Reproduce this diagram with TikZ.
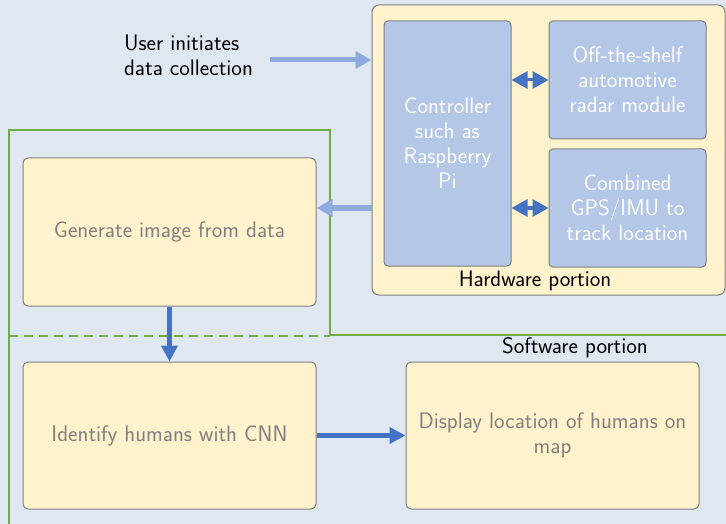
\documentclass[tikz,border=0pt]{standalone}
\usepackage{tikz}
\usetikzlibrary{arrows.meta}
\renewcommand{\familydefault}{\sfdefault}
\definecolor{bgblue}{RGB}{223,231,240}
\definecolor{hwyellow}{RGB}{255,242,204}
\definecolor{ctrlblue}{RGB}{180,199,231}
\definecolor{boxgray}{RGB}{127,127,127}
\definecolor{textgray}{RGB}{128,128,128}
\definecolor{arrowlight}{RGB}{143,170,220}
\definecolor{arrowdark}{RGB}{68,114,196}
\definecolor{swgreen}{RGB}{112,173,71}
\tikzstyle{hwframe} = [rectangle, rounded corners=7pt, minimum width=353pt, minimum height=290pt, fill=hwyellow, draw=boxgray, line width=1pt]
\tikzstyle{hwpart} = [rectangle, rounded corners=4pt, fill=ctrlblue, draw=boxgray, line width=1pt, text=white, align=center, inner sep=0pt]
\tikzstyle{swpart} = [rectangle, rounded corners=5pt, minimum width=293pt, minimum height=147pt, fill=hwyellow, draw=boxgray, line width=1pt, text=textgray, align=center]
\tikzstyle{lightarrow} = [line width=5pt, color=arrowlight, -{Triangle[length=16pt, width=17pt]}]
\tikzstyle{darkarrow} = [line width=5pt, color=arrowdark, -{Triangle[length=16pt, width=16pt]}]
\tikzstyle{linkarrow} = [line width=3pt, color=arrowdark, {Triangle[length=16pt, width=17pt]}-{Triangle[length=16pt, width=17pt]}]
\tikzstyle{swline} = [line width=1.5pt, color=swgreen]

\begin{document}
\begin{tikzpicture}[x=1pt, y=-1pt, font=\fontsize{22.5}{25}\selectfont]
	\fill [bgblue] (0,0) rectangle (726,524);
	\useasboundingbox (0,0) rectangle (726,524);
	% software region
	\draw [swline] (9,524) -- (9,130) -- (330,130) -- (330,335) -- (726,335);
	\draw [swline, dash pattern=on 9pt off 6pt] (9,336) -- (330,336);
	\node (swlabel) at (575,348) {Software portion};
	% hardware region
	\node (hw) [hwframe] at (548.5,150) {};
	\node (hwlabel) at (535,281) {Hardware portion};
	\node (ctrl) [hwpart, minimum width=127pt, minimum height=245pt] at (447.5,143.5) {Controller\\such as\\Raspberry\\Pi};
	\node (radar) [hwpart, minimum width=157pt, minimum height=118pt] at (627.5,80) {Off-the-shelf\\automotive\\radar module};
	\node (gps) [hwpart, minimum width=157pt, minimum height=118pt] at (627.5,208) {Combined\\GPS/IMU to\\track location};
	% processing steps
	\node (gen) [swpart, minimum height=148pt] at (169.5,232) {Generate image from data};
	\node (ident) [swpart] at (169.5,435.5) {Identify humans with CNN};
	\node (disp) [swpart] at (552.5,435.5) {Display location of humans on\\map};
	\node (user) [align=left] at (188.5,55) {User initiates\\data collection};
	\coordinate (uin) at (270,60);
	\draw [lightarrow] (uin) -- (uin -| hw.west);
	\draw [linkarrow] (ctrl.east |- radar) -- (radar.west);
	\draw [linkarrow] (ctrl.east |- gps) -- (gps.west);
	\draw [lightarrow] (hw.west |- gps) -- (gen.east |- gps);
	\draw [darkarrow] (gen.south) -- (ident.north);
	\draw [darkarrow] (ident.east) -- (disp.west);
\end{tikzpicture}
\end{document}
